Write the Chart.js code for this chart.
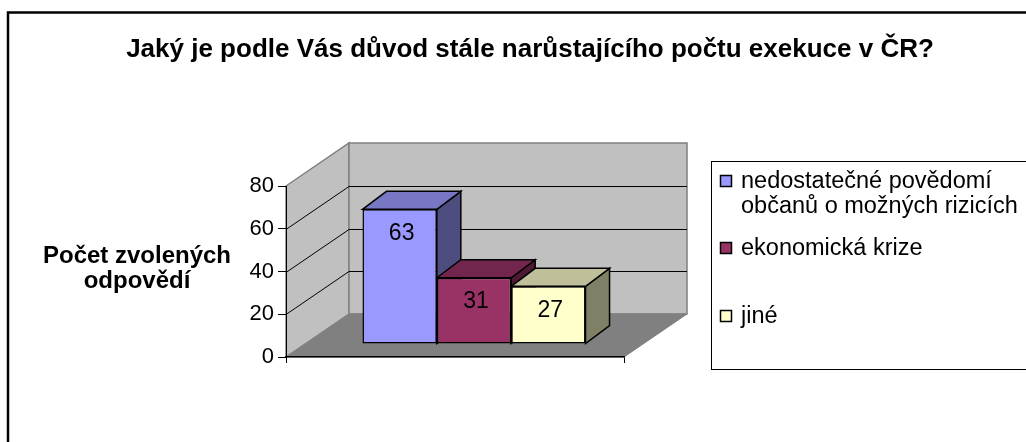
<!DOCTYPE html>
<html><head><meta charset="utf-8">
<script src="https://cdn.jsdelivr.net/npm/chart.js@4.4.1/dist/chart.umd.min.js"></script>
<style>html,body{margin:0;padding:0;background:#fff;overflow:hidden}#wrap{width:1026px;height:442px}</style>
</head><body><div id="wrap"><canvas id="c" width="1026" height="442"></canvas></div>
<script>
// ---- data ----
const chartTitle = 'Jaký je podle Vás důvod stále narůstajícího počtu exekuce v ČR?';
const axisTitleLines = ['Počet zvolených', 'odpovědí'];
const categories = ['nedostatečné povědomí občanů o možných rizicích', 'ekonomická krize', 'jiné'];
const legendLines = [['nedostatečné povědomí', 'občanů o možných rizicích'], ['ekonomická krize'], ['jiné']];
const values = [63, 31, 27];
const yTicks = [0, 20, 40, 60, 80];

// ---- styles ----
const FONT = '"Liberation Sans", Arial, sans-serif';
const frontColors = ['#9999FF', '#993366', '#FFFFCC'];
const topColors = ['#7777C4', '#73264D', '#BFBF99'];
const sideColors = ['#4D4D80', '#4D1A33', '#808066'];
const WALL_DX = 63, WALL_DY = -43;   // depth of the 3-D box
const BAR_SHIFT_X = 19, BAR_SHIFT_Y = -13; // bars sit slightly inside the box
const BAR_DX = 24, BAR_DY = -18;     // depth of each bar

function poly(ctx, pts, fill, stroke, lw) {
  ctx.beginPath();
  ctx.moveTo(pts[0][0], pts[0][1]);
  for (let i = 1; i < pts.length; i++) ctx.lineTo(pts[i][0], pts[i][1]);
  ctx.closePath();
  if (fill) { ctx.fillStyle = fill; ctx.fill(); }
  if (stroke) { ctx.strokeStyle = stroke; ctx.lineWidth = lw || 1; ctx.lineJoin = 'miter'; ctx.stroke(); }
}

const scene = {
  id: 'scene3d',
  beforeDraw(chart) {
    const ctx = chart.ctx, ys = chart.scales.y, a = chart.chartArea;
    const L = a.left, R = a.right;
    const yTop = ys.getPixelForValue(yTicks[yTicks.length - 1]);
    const yBot = ys.getPixelForValue(0);
    ctx.save();
    ctx.fillStyle = '#fff';
    ctx.fillRect(0, 0, chart.width, chart.height);
    // outer frame
    ctx.strokeStyle = '#000'; ctx.lineWidth = 2.5;
    ctx.strokeRect(8, 12.5, 1100, 500);
    // left wall
    poly(ctx, [[L, yTop], [L + WALL_DX, yTop + WALL_DY], [L + WALL_DX, yBot + WALL_DY], [L, yBot]], '#C0C0C0', '#808080', 1.5);
    // back wall
    poly(ctx, [[L + WALL_DX, yTop + WALL_DY], [R + WALL_DX, yTop + WALL_DY], [R + WALL_DX, yBot + WALL_DY], [L + WALL_DX, yBot + WALL_DY]], '#C0C0C0', '#808080', 1.5);
    // floor
    poly(ctx, [[L, yBot], [L + WALL_DX, yBot + WALL_DY], [R + WALL_DX, yBot + WALL_DY], [R, yBot]], '#808080', '#808080', 1);
    // gridlines
    ctx.strokeStyle = '#000'; ctx.lineWidth = 1;
    yTicks.forEach(v => {
      if (v === 0 || v === yTicks[yTicks.length - 1]) return;
      const y = Math.round(ys.getPixelForValue(v)) + 0.5;
      ctx.beginPath();
      ctx.moveTo(L, y);
      ctx.lineTo(L + WALL_DX, y + WALL_DY);
      ctx.lineTo(R + WALL_DX, y + WALL_DY);
      ctx.stroke();
    });
    ctx.restore();
  },
  beforeDatasetsDraw(chart) {
    const ctx = chart.ctx;
    ctx.save();
    ctx.translate(BAR_SHIFT_X, BAR_SHIFT_Y);
    chart.data.datasets.forEach((ds, i) => {
      const meta = chart.getDatasetMeta(i);
      meta.data.forEach(bar => {
        const p = bar.getProps(['x', 'y', 'base', 'width'], true);
        const l = p.x - p.width / 2, r = p.x + p.width / 2;
        poly(ctx, [[r, p.y], [r + BAR_DX, p.y + BAR_DY], [r + BAR_DX, p.base + BAR_DY], [r, p.base]], sideColors[i], '#000', 1.5);
        poly(ctx, [[l, p.y], [l + BAR_DX, p.y + BAR_DY], [r + BAR_DX, p.y + BAR_DY], [r, p.y]], topColors[i], '#000', 1.5);
      });
    });
  },
  afterDatasetsDraw(chart) {
    const ctx = chart.ctx;
    // data labels
    ctx.fillStyle = '#000';
    ctx.font = '23px ' + FONT;
    ctx.textAlign = 'center';
    ctx.textBaseline = 'middle';
    chart.data.datasets.forEach((ds, i) => {
      const meta = chart.getDatasetMeta(i);
      meta.data.forEach((bar, j) => {
        const p = bar.getProps(['x', 'y'], true);
        ctx.fillText(String(ds.data[j]), p.x + 2, p.y + 24);
      });
    });
    ctx.restore();
  },
  afterDraw(chart) {
    const ctx = chart.ctx;
    ctx.save();
    ctx.fillStyle = '#000';
    // title
    ctx.font = 'bold 26px ' + FONT;
    ctx.textAlign = 'center';
    ctx.textBaseline = 'alphabetic';
    ctx.fillText(chartTitle, 530, 57);
    // axis title
    ctx.font = 'bold 24px ' + FONT;
    ctx.fillText(axisTitleLines[0], 137, 263);
    ctx.fillText(axisTitleLines[1], 137, 288);
    // legend
    ctx.strokeStyle = '#000'; ctx.lineWidth = 1;
    ctx.strokeRect(711.5, 161.5, 400, 208);
    const itemY = [188, 255, 323];
    ctx.font = '23.5px ' + FONT;
    ctx.textAlign = 'left';
    chart.data.datasets.forEach((ds, i) => {
      const by = itemY[i];
      ctx.fillStyle = frontColors[i];
      ctx.fillRect(720.5, by - 12.5, 11, 11);
      ctx.strokeStyle = '#000'; ctx.lineWidth = 1.5;
      ctx.strokeRect(720.5, by - 12.5, 11, 11);
      ctx.fillStyle = '#000';
      legendLines[i].forEach((t, k) => ctx.fillText(t, 741, by + k * 25));
    });
    ctx.restore();
  }
};

const datasets = categories.map((c, i) => ({
  label: c,
  data: [values[i]],
  backgroundColor: frontColors[i],
  borderColor: '#000',
  borderWidth: 1.5,
  borderSkipped: false,
  categoryPercentage: 0.66,
  barPercentage: 1.0,
  clip: false
}));

new Chart(document.getElementById('c'), {
  type: 'bar',
  data: { labels: [''], datasets },
  options: {
    responsive: false,
    animation: false,
    devicePixelRatio: 1,
    layout: { padding: { left: 226, right: 402, top: 186, bottom: 79 } },
    plugins: { legend: { display: false }, title: { display: false }, tooltip: { enabled: false } },
    scales: {
      x: {
        display: true,
        ticks: { display: false },
        grid: { offset: true, drawOnChartArea: false, drawTicks: true, tickLength: 6, color: '#000', lineWidth: 1 },
        border: { display: true, color: '#000', width: 1.5 },
        afterFit: s => { s.height = 6; }
      },
      y: {
        min: 0, max: 80,
        afterBuildTicks: s => { s.ticks = yTicks.map(v => ({ value: v })); },
        ticks: { color: '#000', font: { family: FONT, size: 22 }, padding: 4 },
        grid: { drawOnChartArea: false, drawTicks: true, tickLength: 8, color: '#000', lineWidth: 1 },
        border: { display: true, color: '#000', width: 1 },
        afterFit: s => { s.width = 60; }
      }
    }
  },
  plugins: [scene]
});
</script>
</body></html>
